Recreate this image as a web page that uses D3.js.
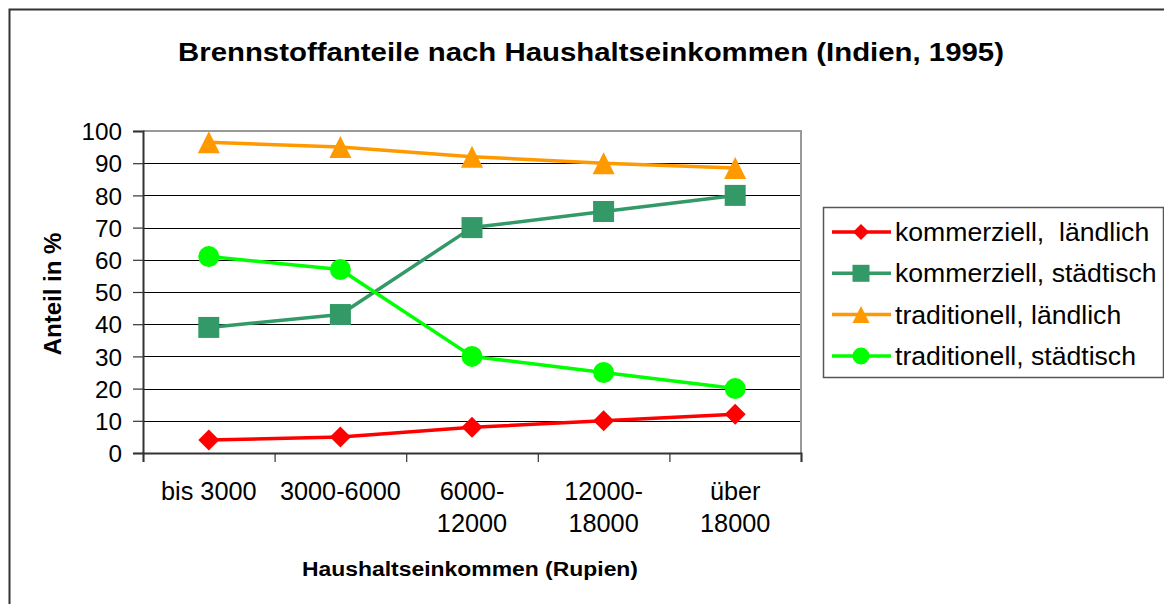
<!DOCTYPE html>
<html>
<head>
<meta charset="utf-8">
<script src="https://cdn.jsdelivr.net/npm/d3@7"></script>
<style>
  html, body { margin: 0; padding: 0; background: #fff; }
  svg { display: block; font-family: "Liberation Sans", Arial, sans-serif; }
</style>
</head>
<body>
<svg id="chart" width="1164" height="604"></svg>
<script>
// Income brackets (x categories) and their two-line tick labels
const categories = ["bis 3000", "3000-6000", "6000-12000", "12000-18000", "über 18000"];
const tickLabelLines = [["bis 3000"], ["3000-6000"], ["6000-", "12000"], ["12000-", "18000"], ["über", "18000"]];

// Fuel shares in percent per income bracket
const kommerziellLaendlich = [4, 5, 8, 10, 12];
const kommerziellStaedtisch = [39, 43, 70, 75, 80];
const traditionellLaendlich = [96.5, 95, 92, 90, 88.5];
const traditionellStaedtisch = [61, 57, 30, 25, 20];

const seriesNames = ["kommerziell,  ländlich", "kommerziell, städtisch", "traditionell, ländlich", "traditionell, städtisch"];
const yTicks = [0, 10, 20, 30, 40, 50, 60, 70, 80, 90, 100];

const series = [
  { name: seriesNames[0], values: kommerziellLaendlich, color: "#ff0000", marker: "diamond" },
  { name: seriesNames[1], values: kommerziellStaedtisch, color: "#339966", marker: "square" },
  { name: seriesNames[2], values: traditionellLaendlich, color: "#ff9900", marker: "triangle" },
  { name: seriesNames[3], values: traditionellStaedtisch, color: "#00ff00", marker: "circle" }
];

const svg = d3.select("#chart");
const plot = { left: 143, right: 801, top: 131, bottom: 453 };

// Outer chart frame
svg.append("rect")
  .attr("x", 9.5).attr("y", 9.5)
  .attr("width", 1170).attr("height", 610)
  .attr("fill", "#fff").attr("stroke", "#333").attr("stroke-width", 2);

// Title
svg.append("text")
  .attr("x", 591).attr("y", 61)
  .attr("text-anchor", "middle")
  .attr("font-size", 25).attr("font-weight", "bold")
  .attr("textLength", 826).attr("lengthAdjust", "spacingAndGlyphs")
  .text("Brennstoffanteile nach Haushaltseinkommen (Indien, 1995)");

const x = d3.scalePoint().domain(categories).range([plot.left, plot.right]).padding(0.5);
const xEdges = d3.scaleLinear().domain([0, categories.length]).range([plot.left, plot.right]);
const y = d3.scaleLinear().domain([0, 100]).range([plot.bottom, plot.top]);

// Horizontal gridlines
svg.append("g")
  .selectAll("line")
  .data(yTicks.filter(t => t > 0 && t < 100))
  .join("line")
  .attr("x1", plot.left).attr("x2", plot.right)
  .attr("y1", d => Math.round(y(d)) + 0.5).attr("y2", d => Math.round(y(d)) + 0.5)
  .attr("stroke", "#000").attr("stroke-width", 1.2);

// Plot area border (top and right)
svg.append("path")
  .attr("d", `M${plot.left},${plot.top} H${plot.right} V${plot.bottom}`)
  .attr("fill", "none").attr("stroke", "#999").attr("stroke-width", 2);

// Y axis
const yAxis = svg.append("g")
  .attr("transform", `translate(${plot.left},0)`)
  .call(d3.axisLeft(y).tickValues(yTicks).tickSize(10).tickPadding(11).tickFormat(d3.format("d")));
yAxis.select(".domain").attr("stroke", "#333").attr("stroke-width", 2);
yAxis.selectAll(".tick line").attr("stroke", "#333").attr("stroke-width", 1.2);
yAxis.selectAll(".tick text")
  .attr("font-size", 24.3).attr("font-family", "Liberation Sans, Arial, sans-serif").attr("fill", "#000")
  .attr("dy", "0.36em");

// X axis with ticks at bracket boundaries
const xAxis = svg.append("g")
  .attr("transform", `translate(0,${plot.bottom})`)
  .call(d3.axisBottom(xEdges).ticks(categories.length).tickSize(9).tickFormat(""));
xAxis.select(".domain").attr("stroke", "#333").attr("stroke-width", 2);
xAxis.selectAll(".tick line").attr("stroke", "#333").attr("stroke-width", 1.2);

// Category labels
const xl = svg.append("g")
  .selectAll("text")
  .data(categories)
  .join("text")
  .attr("x", d => x(d))
  .attr("y", 500)
  .attr("text-anchor", "middle")
  .attr("font-size", 25.3)
  .attr("fill", "#000");
xl.each(function (d, i) {
  d3.select(this).selectAll("tspan")
    .data(tickLabelLines[i])
    .join("tspan")
    .attr("x", x(d))
    .attr("dy", (t, j) => j === 0 ? 0 : 32)
    .text(t => t);
});

// Axis titles
svg.append("text")
  .attr("x", 470).attr("y", 576)
  .attr("text-anchor", "middle")
  .attr("font-size", 20).attr("font-weight", "bold")
  .attr("textLength", 336).attr("lengthAdjust", "spacingAndGlyphs")
  .text("Haushaltseinkommen (Rupien)");

svg.append("text")
  .attr("transform", "translate(61,294) rotate(-90)")
  .attr("text-anchor", "middle")
  .attr("font-size", 24).attr("font-weight", "bold")
  .text("Anteil in %");

// Marker shapes centered on (0,0) with total size s
function markerPath(type, s) {
  const h = s / 2;
  switch (type) {
    case "diamond": return `M0,${-h}L${h},0L0,${h}L${-h},0Z`;
    case "square": return `M${-h},${-h}H${h}V${h}H${-h}Z`;
    case "triangle": return `M0,${-h}L${h},${h}H${-h}Z`;
    default: return null;
  }
}
function drawMarker(g, type, color, s) {
  if (type === "circle") {
    g.append("circle").attr("r", s / 2).attr("fill", color);
  } else {
    g.append("path").attr("d", markerPath(type, s)).attr("fill", color);
  }
}

// Lines and markers
const line = d3.line().x((v, i) => x(categories[i])).y(v => y(v));
series.forEach(s => {
  svg.append("path")
    .datum(s.values)
    .attr("d", line)
    .attr("fill", "none")
    .attr("stroke", s.color)
    .attr("stroke-width", 3.5)
    .attr("stroke-linejoin", "round");
});
series.forEach(s => {
  s.values.forEach((v, i) => {
    const g = svg.append("g").attr("transform", `translate(${x(categories[i])},${y(v)})`);
    drawMarker(g, s.marker, s.color, s.marker === "triangle" ? 22 : 21);
  });
});

// Legend
const legend = svg.append("g");
legend.append("rect")
  .attr("x", 823.5).attr("y", 207.5).attr("width", 340).attr("height", 170)
  .attr("fill", "#fff").attr("stroke", "#555").attr("stroke-width", 1.5);
series.forEach((s, i) => {
  const ly = 232 + i * 41.3;
  const g = legend.append("g");
  g.append("line")
    .attr("x1", 832).attr("x2", 891).attr("y1", ly).attr("y2", ly)
    .attr("stroke", s.color).attr("stroke-width", 3.5);
  const mg = g.append("g").attr("transform", `translate(861,${ly})`);
  drawMarker(mg, s.marker, s.color, s.marker === "diamond" ? 16 : 17);
  g.append("text")
    .attr("x", 895).attr("y", ly + 9)
    .attr("font-size", 26.6)
    .attr("fill", "#000")
    .style("white-space", "pre")
    .attr("xml:space", "preserve")
    .text(s.name);
});
</script>
</body>
</html>
